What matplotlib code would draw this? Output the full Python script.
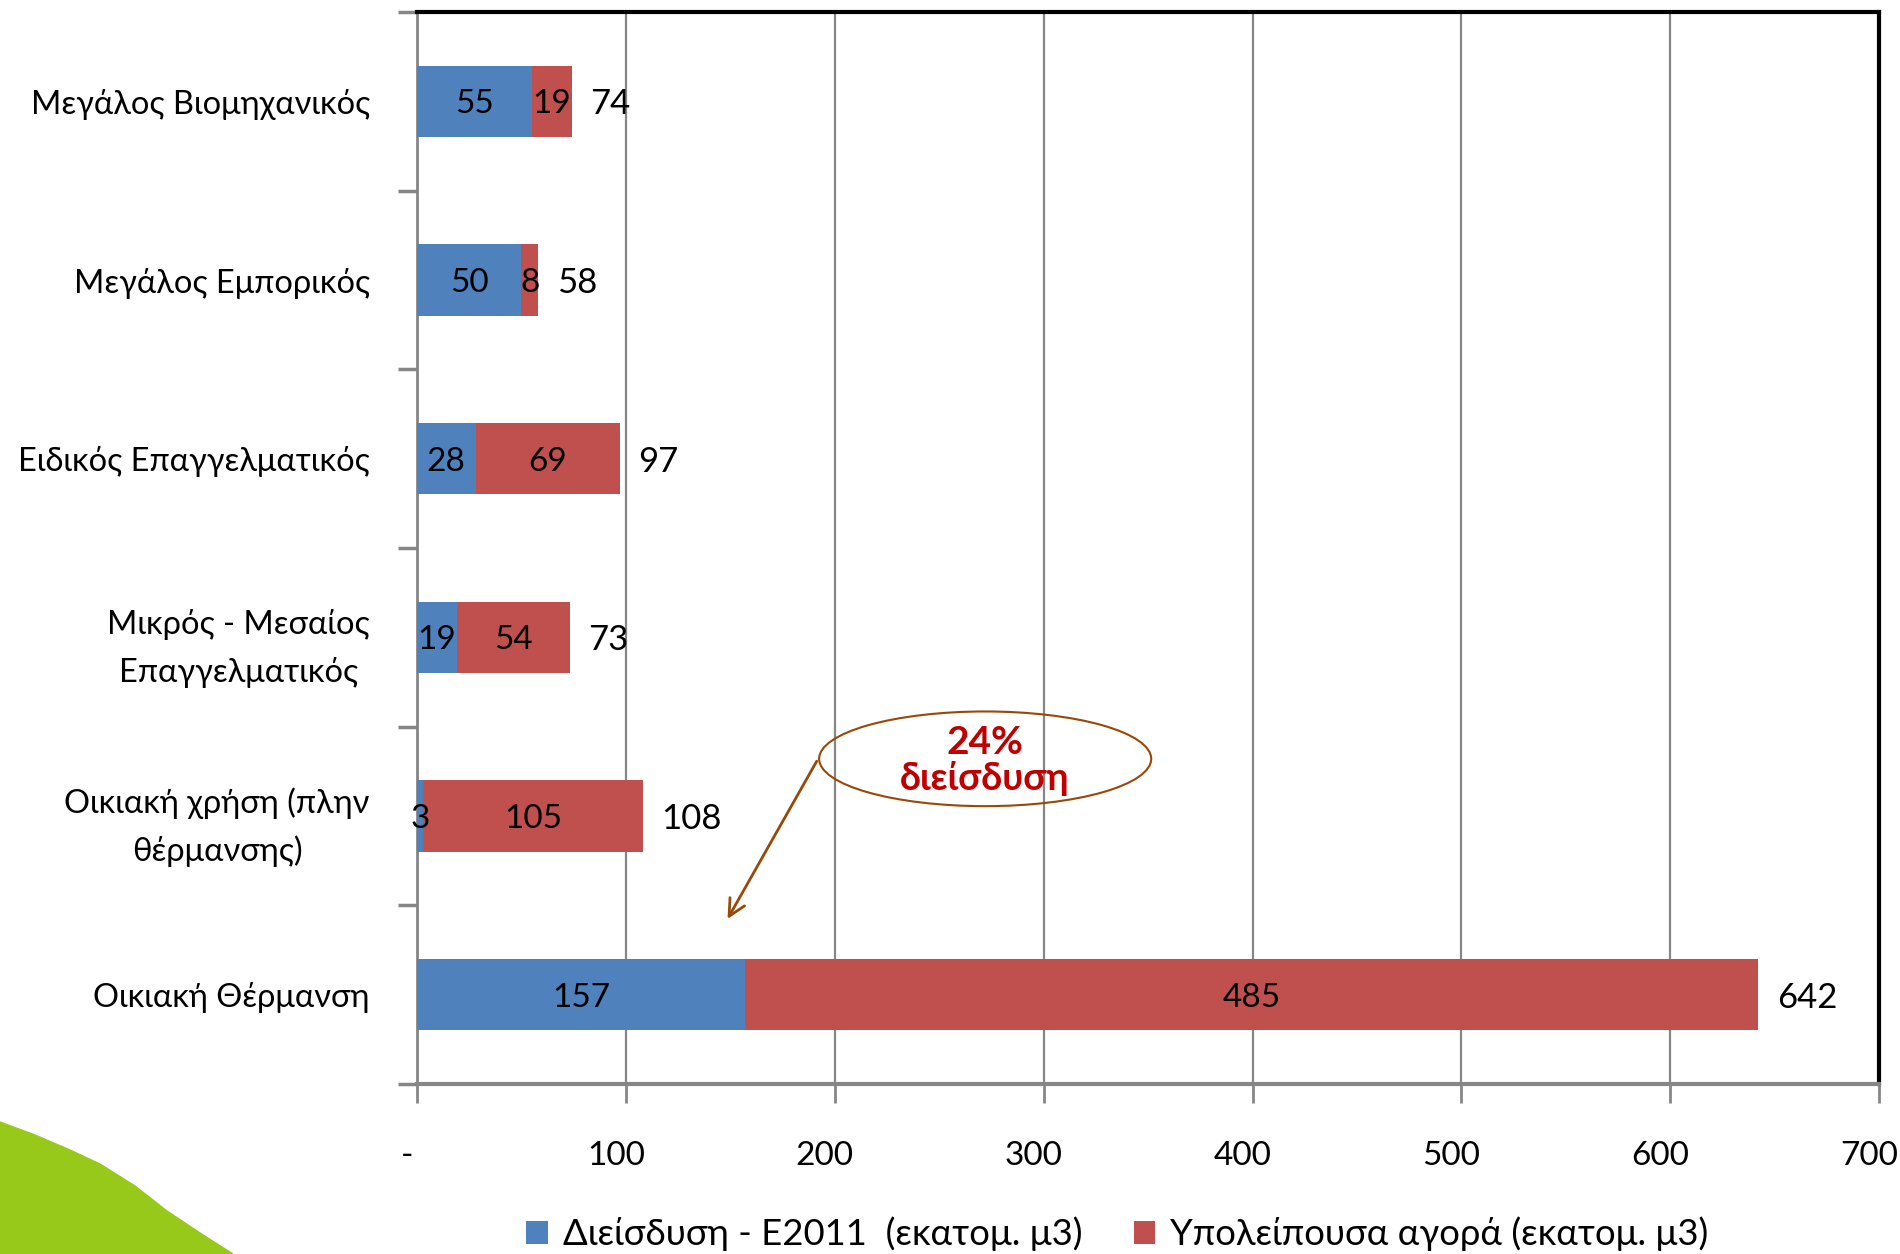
import matplotlib.pyplot as plt
from matplotlib.patches import Ellipse, Polygon
import matplotlib.transforms as mtransforms
import numpy as np

# Δεδομένα
kathgories = ['Μεγάλος Βιομηχανικός', 'Μεγάλος Εμπορικός', 'Ειδικός Επαγγελματικός',
              'Μικρός - Μεσαίος\nΕπαγγελματικός', 'Οικιακή χρήση (πλην\nθέρμανσης)',
              'Οικιακή Θέρμανση']
dieisdysi = [55, 50, 28, 19, 3, 157]
ypoloipi = [19, 8, 69, 54, 105, 485]
synolo = [74, 58, 97, 73, 108, 642]
x_ticks = [0, 100, 200, 300, 400, 500, 600, 700]
x_labels = ['-', '100', '200', '300', '400', '500', '600', '700']
onomata = ['Διείσδυση - Ε2011  (εκατομ. μ3)', 'Υπολείπουσα αγορά (εκατομ. μ3)']
colori = ['#4F81BD', '#C0504D']

plt.rcParams['font.family'] = ['Lato', 'Noto Sans', 'DejaVu Sans']
plt.rcParams['font.size'] = 24

fig = plt.figure(figsize=(19, 12.54), dpi=100)
ax = fig.add_axes([0.2195, 0.1356, 0.7695, 0.8548])

y = np.arange(len(kathgories))
ax.barh(y, dieisdysi, height=0.4, color=colori[0], label=onomata[0], zorder=3)
ax.barh(y, ypoloipi, left=dieisdysi, height=0.4, color=colori[1], label=onomata[1], zorder=3)

# Ετικέτες τιμών
for i in range(len(kathgories)):
    ax.text(dieisdysi[i] / 2, y[i], str(dieisdysi[i]), ha='center', va='center_baseline', zorder=4)
    ax.text(dieisdysi[i] + ypoloipi[i] / 2, y[i], str(ypoloipi[i]), ha='center', va='center_baseline', zorder=4)
    ax.text(synolo[i] + 9, y[i], str(synolo[i]), ha='left', va='center_baseline', fontsize=25, zorder=4)

ax.set_xlim(0, 700)
ax.set_ylim(len(kathgories) - 0.5, -0.5)
ax.set_xticks(x_ticks)
ax.set_xticklabels(x_labels)
ax.set_yticks(y)
ax.set_yticklabels(kathgories, multialignment='center', linespacing=1.65, fontsize=23.5)
ax.set_yticks(np.arange(-0.5, len(kathgories)), minor=True)
ax.tick_params(axis='y', which='major', length=0, pad=34)
ax.tick_params(axis='y', which='minor', length=14, width=2.5, color='#868686')
ax.tick_params(axis='x', length=14, width=2, color='#868686', pad=27)
ax.grid(axis='x', color='#868686', linewidth=1.6, zorder=0)

# etichette asse x un po' a sinistra
offset = mtransforms.ScaledTranslation(-10 / 100, 0, fig.dpi_scale_trans)
for lab in ax.get_xticklabels():
    lab.set_transform(lab.get_transform() + offset)

for s in ['left', 'bottom']:
    ax.spines[s].set_color('#868686')
ax.spines['left'].set_linewidth(2)
ax.spines['bottom'].set_linewidth(3)
for s in ['top', 'right']:
    ax.spines[s].set_color('black')
    ax.spines[s].set_linewidth(3)

# Σχόλιο με έλλειψη
ax.add_patch(Ellipse((272, 3.68), 159, 0.53, fill=False, edgecolor='#984807', linewidth=1.5, zorder=5))
ax.text(272, 3.59, '24%', ha='center', va='center', color='#C00000', fontweight='bold', fontsize=28, zorder=6)
ax.text(272, 3.79, 'διείσδυση', ha='center', va='center', color='#C00000', fontweight='bold', fontsize=27, zorder=6)
ax.annotate('', xy=(148, 4.59), xytext=(192, 3.68),
            arrowprops=dict(arrowstyle='->', color='#984807', lw=2, mutation_scale=30), zorder=6)

ax.legend(loc='center', bbox_to_anchor=(0.479, -0.14), ncol=2, frameon=False,
          handlelength=0.6, handleheight=0.6, handletextpad=0.4, columnspacing=1.4, fontsize=26.3)

# Πράσινο διακοσμητικό σχήμα
pts = [(0, 1122), (35, 1135), (70, 1150), (100, 1164), (135, 1186), (167, 1211), (200, 1233),
       (233, 1254), (0, 1254)]
fig.patches.append(Polygon([[px / 1900, 1 - py / 1254] for px, py in pts],
                           closed=True, transform=fig.transFigure, color='#97C91A', zorder=-1))

plt.savefig('out.png', dpi=100)
